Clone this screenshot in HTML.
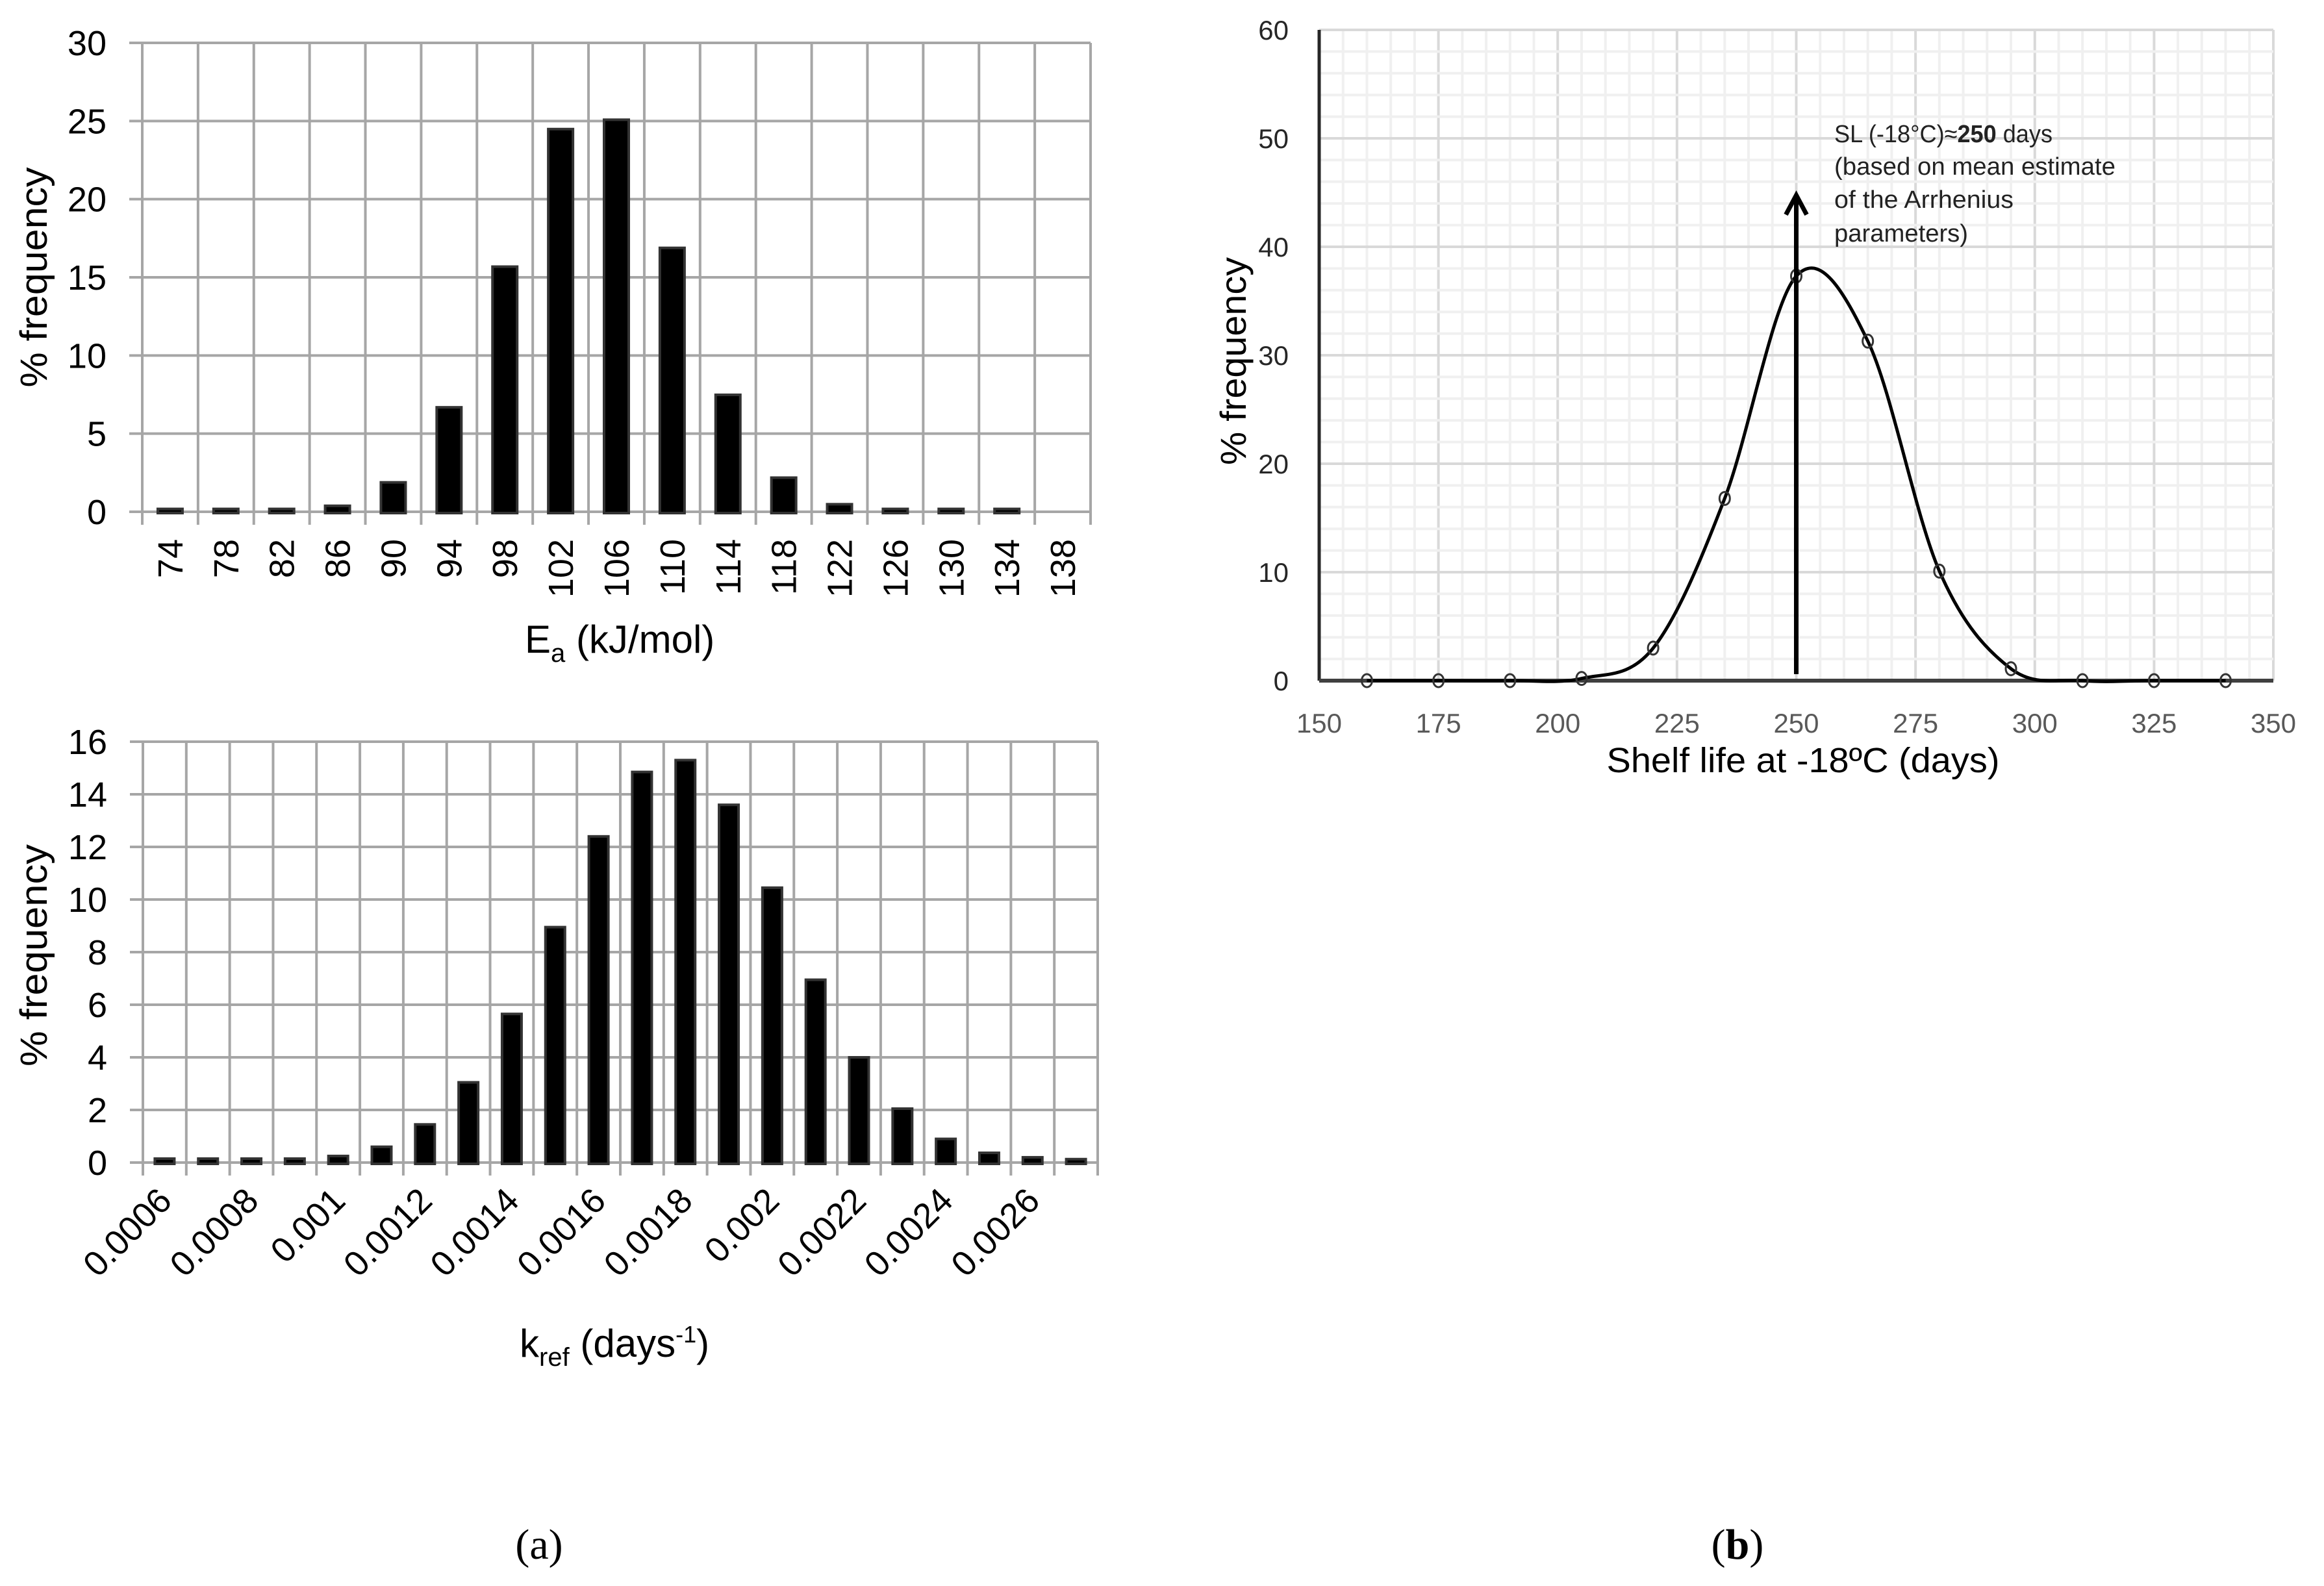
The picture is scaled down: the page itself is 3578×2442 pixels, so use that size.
<!DOCTYPE html>
<html><head><meta charset="utf-8">
<style>
html,body{margin:0;padding:0;background:#fff;}
svg{display:block;}
text{font-family:"Liberation Sans",sans-serif;}
</style></head>
<body>
<svg id="fig" xmlns="http://www.w3.org/2000/svg" width="3578" height="2442" viewBox="0 0 3578 2442">
<g id="chartA"></g>
<g id="chartK"></g>
<g id="chartB"></g>
<text x="830" y="2400" text-anchor="middle" style="font-family:'Liberation Serif',serif;font-size:66px">(a)</text>
<text x="2675" y="2400" text-anchor="middle" style="font-family:'Liberation Serif',serif;font-size:66px">(<tspan font-weight="bold">b</tspan>)</text>
</svg>
<script>
// ---- data ----
const eaCategories = ["74","78","82","86","90","94","98","102","106","110","114","118","122","126","130","134","138"];
const eaValues = [0.1,0.1,0.1,0.3,1.8,6.6,15.6,24.4,25.0,16.8,7.4,2.1,0.4,0.1,0.1,0.1,null];
const eaYTicks = [0,5,10,15,20,25,30];

const kCategories = ["0.0006","0.0007","0.0008","0.0009","0.001","0.0011","0.0012","0.0013","0.0014","0.0015","0.0016","0.0017","0.0018","0.0019","0.002","0.0021","0.0022","0.0023","0.0024","0.0025","0.0026","0.0027"];
const kValues = [0.1,0.1,0.1,0.1,0.2,0.55,1.4,3.0,5.6,8.9,12.35,14.8,15.25,13.55,10.4,6.9,3.95,2.0,0.85,0.32,0.15,0.08];
const kYTicks = [0,2,4,6,8,10,12,14,16];

const slX = [160,175,190,205,220,235,250,265,280,295,310,325,340];
const slY = [0,0,0,0.2,3.0,16.8,37.3,31.3,10.1,1.1,0,0,0];
const slXTicks = [150,175,200,225,250,275,300,325,350];
const slYTicks = [0,10,20,30,40,50,60];
const slMarker = 250;
const slArrowTop = 45;

const NS="http://www.w3.org/2000/svg";
function mk(parent,tag,attrs,txt){const e=document.createElementNS(NS,tag);for(const k in attrs)e.setAttribute(k,attrs[k]);if(txt!==undefined)e.textContent=txt;parent.appendChild(e);return e;}

// ---- bar chart helper ----
function barChart(g,cats,vals,ticks,L,R,T,B,ymax,barW,labelMode){
  const n=cats.length,step=(R-L)/n;
  const x=i=>L+(i+0.5)*step;
  const y=v=>B-(v/ymax)*(B-T);
  // horizontal grid
  ticks.forEach(t=>{
    const ln=mk(g,'line',{x1:L-20,x2:R,y1:y(t),y2:y(t),stroke:'#a6a6a6','stroke-width':4});
    
    
    const tx=mk(g,'text',{x:L-55,y:y(t)+19,'text-anchor':'end','font-size':54,fill:'#000'},String(t));
    
    
  });
  for(let i=0;i<=n;i++){
    const xx=L+i*step;
    const ln=mk(g,'line',{x1:xx,x2:xx,y1:T,y2:B+20,stroke:'#a6a6a6','stroke-width':4});
    
    
  }
  vals.forEach((v,i)=>{
    if(v===null)return;
    const r=mk(g,'rect',{x:x(i)-barW/2,y:y(v)-2,width:barW,height:Math.max(B-y(v)+2,0)+2,fill:'#000',stroke:'#333','stroke-width':4});
    
    
  });
  cats.forEach((c,i)=>{
    if(labelMode==='vertical'){
      const tx=mk(g,'text',{x:x(i)+19,y:B+42,'text-anchor':'end','font-size':54,transform:`rotate(-90 ${x(i)+19} ${B+42})`},c);
      
      
    } else if(i%2===0){
      const ax=x(i)+14, ay=B+62;
      const tx=mk(g,'text',{x:ax,y:ay,'text-anchor':'end','font-size':54,transform:`rotate(-45 ${ax} ${ay})`},c);
      
      
    }
  });
}

// ---- chart A ----
const gA=document.getElementById('chartA');
barChart(gA,eaCategories,eaValues,eaYTicks,219,1679,66,788,30,38,'vertical');
let t=mk(gA,'text',{x:52+20,y:427,'text-anchor':'middle','font-size':58,transform:'rotate(-90 72 427)',textLength:339,lengthAdjust:'spacingAndGlyphs'},'% frequency');

t=mk(gA,'text',{x:808,y:1005,'font-size':60});

t.innerHTML='E<tspan font-size="40" dy="14">a</tspan><tspan dy="-14"> (kJ/mol)</tspan>';

// ---- chart K ----
const gK=document.getElementById('chartK');
barChart(gK,kCategories,kValues,kYTicks,220,1690,1142,1790,16,30,'diag');
t=mk(gK,'text',{x:72,y:1471,'text-anchor':'middle','font-size':58,transform:'rotate(-90 72 1471)',textLength:342,lengthAdjust:'spacingAndGlyphs'},'% frequency');

t=mk(gK,'text',{x:800,y:2089,'font-size':60});

t.innerHTML='k<tspan font-size="40" dy="14">ref</tspan><tspan dy="-14"> (days</tspan><tspan font-size="36" dy="-22">-1</tspan><tspan dy="22">)</tspan>';

// ---- chart B ----
const gB=document.getElementById('chartB');
const bL=2031,bR=3500,bT=46,bB=1048;
const sx=v=>bL+(v-150)/200*(bR-bL);
const sy=v=>bB-v/60*(bB-bT);
for(let v=150;v<=350;v+=5){
  const major=(v%25===0);
  const ln=mk(gB,'line',{x1:sx(v),x2:sx(v),y1:bT,y2:bB,stroke:major?'#d9d9d9':'#f0f0f0','stroke-width':major?4:4});
  
  
}
for(let v=0;v<=60;v+=2){
  const major=(v%10===0);
  const ln=mk(gB,'line',{x1:bL,x2:bR,y1:sy(v),y2:sy(v),stroke:major?'#d9d9d9':'#f0f0f0','stroke-width':4});
  
  
}
slYTicks.forEach(v=>{
  const tx=mk(gB,'text',{x:1984,y:sy(v)+15,'text-anchor':'end','font-size':42,fill:'#262626'},String(v));
  
});
slXTicks.forEach(v=>{
  const tx=mk(gB,'text',{x:sx(v),y:1128,'text-anchor':'middle','font-size':42,fill:'#595959'},String(v));
  
});
let ax=mk(gB,'line',{x1:bL,x2:bL,y1:bT,y2:bB,stroke:'#262626','stroke-width':5});

ax=mk(gB,'line',{x1:bL,x2:bR,y1:bB,y2:bB,stroke:'#404040','stroke-width':6});

// smooth curve
const P=slX.map((v,i)=>[sx(v),sy(slY[i])]);
let d='M'+P[0][0]+','+P[0][1];
for(let i=0;i<P.length-1;i++){
  const p0=P[Math.max(i-1,0)],p1=P[i],p2=P[i+1],p3=P[Math.min(i+2,P.length-1)];
  const c1=[p1[0]+(p2[0]-p0[0])/6,p1[1]+(p2[1]-p0[1])/6];
  const c2=[p2[0]-(p3[0]-p1[0])/6,p2[1]-(p3[1]-p1[1])/6];
  d+=` C${c1[0]},${c1[1]} ${c2[0]},${c2[1]} ${p2[0]},${p2[1]}`;
}
const curve=mk(gB,'path',{d:d,fill:'none',stroke:'#000','stroke-width':5});

P.forEach((p,i)=>{
  const c=mk(gB,'ellipse',{cx:p[0],cy:p[1],rx:8,ry:10,fill:'none',stroke:'#333','stroke-width':3});
  
});
// arrow
const axx=sx(slMarker), at=sy(slArrowTop);
let ar=mk(gB,'line',{x1:axx,x2:axx,y1:bB-10,y2:at+6,stroke:'#000','stroke-width':7});

ar=mk(gB,'polyline',{points:`${axx-16},${at+34} ${axx},${at+4} ${axx+16},${at+34}`,fill:'none',stroke:'#000','stroke-width':7});

const ann=mk(gB,'text',{'font-size':38,fill:'#222',style:"font-family:'Liberation Sans Narrow','Liberation Sans',sans-serif"});

ann.innerHTML='<tspan x="2824" y="219" textLength="336" lengthAdjust="spacingAndGlyphs">SL (-18°C)≈<tspan font-weight="bold">250</tspan> days</tspan><tspan x="2824" y="269" textLength="433" lengthAdjust="spacingAndGlyphs">(based on mean estimate</tspan><tspan x="2824" y="320" textLength="276" lengthAdjust="spacingAndGlyphs">of the Arrhenius</tspan><tspan x="2824" y="372" textLength="206" lengthAdjust="spacingAndGlyphs">parameters)</tspan>';
t=mk(gB,'text',{x:1918,y:556,'text-anchor':'middle','font-size':56,transform:'rotate(-90 1918 556)',textLength:320,lengthAdjust:'spacingAndGlyphs'},'% frequency');

t=mk(gB,'text',{x:2776,y:1189,'text-anchor':'middle','font-size':54,textLength:605,lengthAdjust:'spacingAndGlyphs'},'Shelf life at -18ºC (days)');

</script>
</body></html>
